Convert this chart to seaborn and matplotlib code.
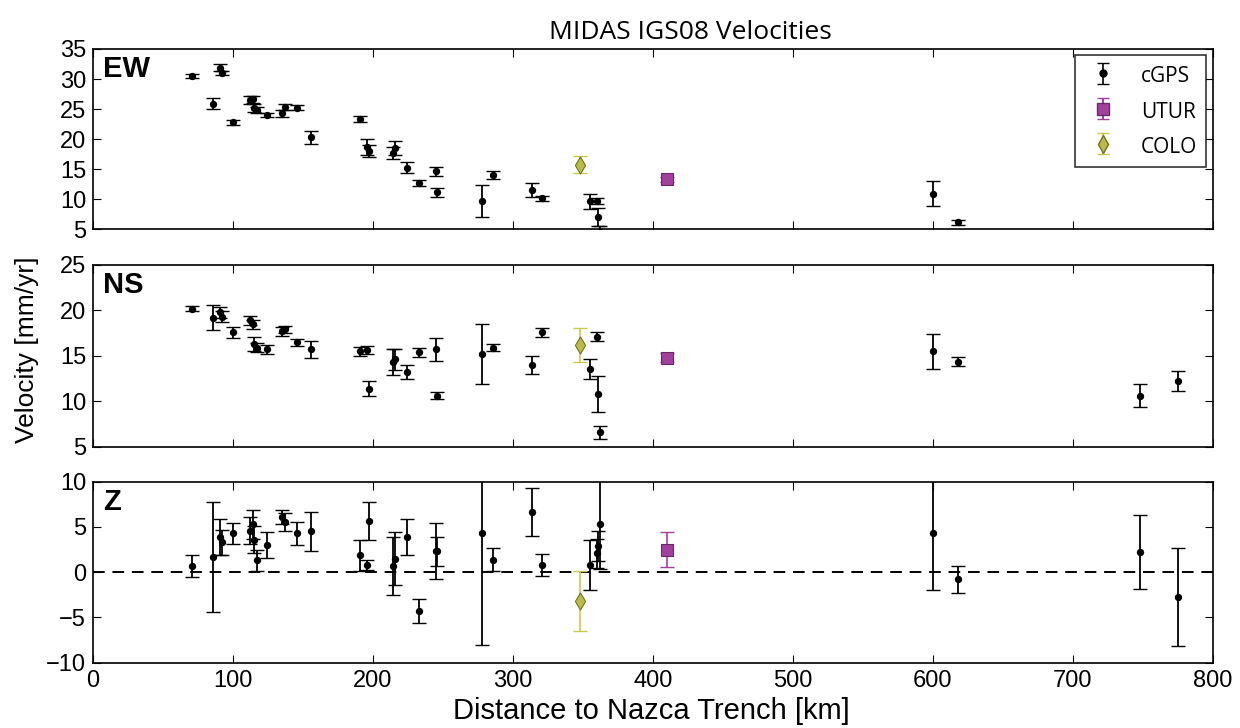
import numpy as np
import pandas as pd
import matplotlib
matplotlib.use("Agg")
import matplotlib.pyplot as plt
import seaborn as sns

# Distance of each continuous GPS station to the Nazca trench [km]
cgps_dist = [71, 86, 91, 92, 100, 112, 114, 115, 117, 124, 135, 137, 146, 156,
             191, 196, 197, 214, 216, 224, 233, 245, 246, 278, 286, 314, 321,
             355, 360, 361, 362, 600, 618, 748, 775]

# East-west velocity and 1-sigma uncertainty [mm/yr]
cgps_ew = [30.5, 25.9, 31.9, 31.0, 22.8, 26.5, 26.6, 25.2, 24.9, 24.0, 24.3, 25.3, 25.2, 20.3,
           23.4, 18.7, 18.0, 17.6, 18.5, 15.2, 12.7, 14.6, 11.1, 9.7, 14.0, 11.5, 10.1,
           9.6, 9.6, 7.0, 4.5, 10.9, 6.1, 3.0, 2.0]
cgps_ew_err = [0.4, 0.9, 0.6, 0.4, 0.4, 0.6, 0.6, 0.7, 0.5, 0.4, 0.6, 0.5, 0.4, 1.1,
               0.5, 1.3, 1.0, 1.0, 1.2, 0.9, 0.5, 0.8, 0.7, 2.7, 0.6, 1.1, 0.4,
               1.2, 0.5, 1.5, 1.0, 2.1, 0.4, 0.5, 0.5]

# North-south velocity and uncertainty [mm/yr]
cgps_ns = [20.2, 19.2, 19.8, 19.3, 17.6, 18.9, 18.5, 16.3, 15.9, 15.7, 17.7, 17.9, 16.5, 15.7,
           15.5, 15.65, 11.4, 14.3, 14.6, 13.2, 15.4, 15.7, 10.6, 15.2, 15.9, 14.0, 17.6,
           13.6, 17.1, 10.8, 6.6, 15.5, 14.35, 10.6, 12.2]
cgps_ns_err = [0.3, 1.35, 0.6, 0.6, 0.6, 0.5, 0.5, 0.8, 0.5, 0.5, 0.5, 0.4, 0.4, 0.9,
               0.5, 0.4, 0.8, 1.4, 1.2, 0.8, 0.5, 1.25, 0.4, 3.3, 0.4, 1.0, 0.5,
               1.1, 0.5, 2.0, 0.7, 1.95, 0.5, 1.25, 1.1]

# Vertical velocity and uncertainty [mm/yr]
cgps_z = [0.7, 1.7, 3.9, 3.3, 4.3, 4.6, 5.3, 3.6, 1.3, 3.0, 6.1, 5.5, 4.3, 4.5,
          1.85, 0.8, 5.7, 0.7, 1.5, 3.9, -4.3, 2.3, 2.3, 4.3, 1.4, 6.7, 0.8,
          0.8, 2.1, 2.9, 5.3, 4.3, -0.8, 2.2, -2.7]
cgps_z_err = [1.2, 6.1, 2.0, 1.4, 1.15, 1.5, 1.6, 1.5, 1.2, 1.4, 0.8, 1.0, 1.26, 2.2,
              1.7, 0.6, 2.1, 3.2, 2.9, 2.0, 1.35, 3.1, 1.6, 12.3, 1.3, 2.65, 1.2,
              2.8, 1.6, 1.7, 5.0, 6.3, 1.45, 4.1, 5.4]

# Campaign sites
utur_dist = [410]
utur_ew, utur_ew_err = [13.3], [0.4]
utur_ns, utur_ns_err = [14.8], [0.5]
utur_z, utur_z_err = [2.5], [1.95]

colo_dist = [348]
colo_ew, colo_ew_err = [15.7], [1.4]
colo_ns, colo_ns_err = [16.2], [1.85]
colo_z, colo_z_err = [-3.2], [3.3]

components = ["EW", "NS", "Z"]
y_limits = {"EW": (5, 35), "NS": (5, 25), "Z": (-10, 10)}


def site_table(dist, ew, ew_err, ns, ns_err, z, z_err):
    return pd.DataFrame({
        "dist": dist,
        "EW": ew, "EW_err": ew_err,
        "NS": ns, "NS_err": ns_err,
        "Z": z, "Z_err": z_err,
    })


cgps = site_table(cgps_dist, cgps_ew, cgps_ew_err, cgps_ns, cgps_ns_err, cgps_z, cgps_z_err)
utur = site_table(utur_dist, utur_ew, utur_ew_err, utur_ns, utur_ns_err, utur_z, utur_z_err)
colo = site_table(colo_dist, colo_ew, colo_ew_err, colo_ns, colo_ns_err, colo_z, colo_z_err)

sns.set_style("ticks")
plt.rcParams.update({
    "font.family": ["Liberation Sans", "DejaVu Sans"],
    "text.color": "black",
    "axes.labelcolor": "black",
    "xtick.color": "black",
    "ytick.color": "black",
    "xtick.direction": "in",
    "ytick.direction": "in",
    "xtick.top": True,
    "ytick.right": True,
    "xtick.major.size": 6,
    "ytick.major.size": 6,
    "xtick.major.width": 0.8,
    "ytick.major.width": 0.8,
    "axes.linewidth": 1.2,
    "axes.edgecolor": "black",
})

utur_face, utur_edge = "#a2409e", "#6a2a67"
colo_face, colo_edge = "#b9bc47", "#70721f"
colo_bar = "#c9c94e"

fig = plt.figure(figsize=(12.4, 7.28), dpi=100)
left, width = 0.075, 0.903
boxes = [(0.6854, 0.2473), (0.3864, 0.2496), (0.0897, 0.2486)]
axes = [fig.add_axes([left, b, width, h]) for b, h in boxes]

for ax, comp in zip(axes, components):
    err = comp + "_err"
    ax.errorbar(cgps["dist"], cgps[comp], yerr=cgps[err], fmt="none",
                ecolor="black", elinewidth=1.3, capsize=5, capthick=1.0, zorder=2)
    sns.scatterplot(data=cgps, x="dist", y=comp, ax=ax, color="black",
                    marker="o", s=28, linewidth=0, legend=False, zorder=3)

    ax.errorbar(utur["dist"], utur[comp], yerr=utur[err], fmt="none",
                ecolor=utur_face, elinewidth=1.2, capsize=5, capthick=1.0, zorder=2)
    sns.scatterplot(data=utur, x="dist", y=comp, ax=ax, color=utur_face,
                    marker="s", s=85, edgecolor=utur_edge, linewidth=0.8,
                    legend=False, zorder=4)

    ax.errorbar(colo["dist"], colo[comp], yerr=colo[err], fmt="none",
                ecolor=colo_bar, elinewidth=1.2, capsize=5, capthick=1.0, zorder=2)
    sns.scatterplot(data=colo, x="dist", y=comp, ax=ax, color=colo_face,
                    marker="d", s=75, edgecolor=colo_edge, linewidth=0.8,
                    legend=False, zorder=4)

    lo, hi = y_limits[comp]
    ax.set_xlim(0, 800)
    ax.set_ylim(lo, hi)
    ax.set_yticks(np.arange(lo, hi + 1, 5))
    ax.set_xticks(np.arange(0, 801, 100))
    ax.set_xlabel("")
    ax.set_ylabel("")
    ax.tick_params(labelsize=17, pad=5)
    ax.text(0.009, 0.965, comp, transform=ax.transAxes, ha="left", va="top",
            fontsize=21, fontweight="bold", color="black")
    for side in ax.spines.values():
        side.set_visible(True)
        side.set_linewidth(1.2)

for ax in axes[:-1]:
    ax.tick_params(labelbottom=False)

axes[2].axhline(0, color="black", linestyle=(0, (6, 4)), linewidth=1.4, zorder=1)

# Legend entries styled as error bars with their markers
h_cgps = axes[0].errorbar([np.nan], [np.nan], yerr=[1], fmt="o", color="black",
                          markersize=5, capsize=4, elinewidth=1.2, label="cGPS")
h_utur = axes[0].errorbar([np.nan], [np.nan], yerr=[1], fmt="s", color=utur_face,
                          mec=utur_edge, ecolor=utur_face, markersize=8, capsize=4,
                          label="UTUR")
h_colo = axes[0].errorbar([np.nan], [np.nan], yerr=[1], fmt="d", color=colo_face,
                          mec=colo_edge, ecolor=colo_bar, markersize=9, capsize=4,
                          label="COLO")
leg = axes[0].legend(handles=[h_cgps, h_utur, h_colo], loc="upper right",
                     numpoints=1, frameon=True, fancybox=False,
                     borderpad=0.45, labelspacing=0.6, handlelength=1.8,
                     handleheight=1.2, handletextpad=0.9, borderaxespad=0.3,
                     prop={"family": ["Open Sans", "DejaVu Sans"], "size": 15})
leg.get_frame().set_edgecolor("black")
leg.get_frame().set_linewidth(1.2)

fig.text(0.557, 0.955, "MIDAS IGS08 Velocities", ha="center", va="center",
         fontsize=19, family=["Open Sans", "DejaVu Sans"])
fig.text(0.525, 0.004, "Distance to Nazca Trench [km]", ha="center", va="bottom",
         fontsize=21)
fig.text(0.022, 0.519, "Velocity [mm/yr]", rotation=90, ha="center", va="center",
         fontsize=19)

fig.savefig("out.png", dpi=100)
